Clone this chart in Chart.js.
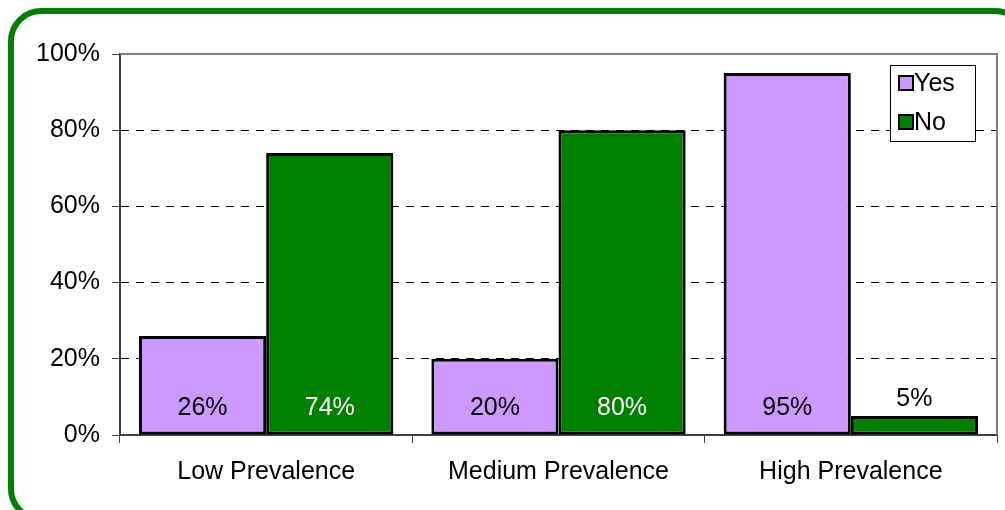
<!DOCTYPE html>
<html>
<head>
<meta charset="utf-8">
<script src="https://cdn.jsdelivr.net/npm/chart.js@4"></script>
<style>
    body { margin: 0; background: #fff; }
    #wrap { position: relative; width: 1005px; height: 510px; }
</style>
</head>
<body>
<div id="wrap"><canvas id="prevalenceChart"></canvas></div>
<script>
const CATEGORIES = ['Low Prevalence', 'Medium Prevalence', 'High Prevalence'];
const YES_VALUES = [26, 20, 95];
const NO_VALUES = [74, 80, 5];
const SERIES_NAMES = ['Yes', 'No'];

const PURPLE = '#cc99ff';
const GREEN = '#008000';
const AXIS = '#404040';
const FONT = "'Liberation Sans', Arial, sans-serif";

Chart.defaults.font.family = FONT;
Chart.defaults.font.size = 25;
Chart.defaults.color = '#000';

// gray frame on top and right of the plot area
const plotFrame = {
    id: 'plotFrame',
    beforeDatasetsDraw(chart) {
        const { ctx, chartArea: a } = chart;
        ctx.save();
        ctx.strokeStyle = '#808080';
        ctx.lineWidth = 2;
        ctx.beginPath();
        ctx.moveTo(a.left, a.top);
        ctx.lineTo(a.right, a.top);
        ctx.lineTo(a.right, a.bottom);
        ctx.stroke();
        ctx.restore();
    },
};

// percentage labels: inside the bar foot, or above short bars
const barLabels = {
    id: 'barLabels',
    afterDatasetsDraw(chart) {
        const { ctx } = chart;
        const base = chart.scales.y.getPixelForValue(0);
        ctx.save();
        ctx.font = '25px ' + FONT;
        ctx.textAlign = 'center';
        ctx.textBaseline = 'middle';
        chart.data.datasets.forEach((ds, di) => {
            chart.getDatasetMeta(di).data.forEach((bar, i) => {
                const text = ds.data[i] + '%';
                if (base - bar.y > 45) {
                    ctx.fillStyle = ds.backgroundColor === GREEN ? '#fff' : '#000';
                    ctx.fillText(text, bar.x, base - 27);
                } else {
                    ctx.fillStyle = '#000';
                    ctx.fillText(text, bar.x, bar.y - 17);
                }
            });
        });
        ctx.restore();
    },
};

// boxed legend in the upper right of the plot
const boxLegend = {
    id: 'boxLegend',
    afterDraw(chart) {
        const { ctx, chartArea: a } = chart;
        const x = a.right - 107, y = a.top + 11, w = 85, h = 76;
        ctx.save();
        ctx.fillStyle = '#fff';
        ctx.fillRect(x, y, w, h);
        ctx.strokeStyle = '#000';
        ctx.lineWidth = 1;
        ctx.strokeRect(x + 0.5, y + 0.5, w, h);
        ctx.font = '25px ' + FONT;
        ctx.textBaseline = 'middle';
        chart.data.datasets.forEach((ds, i) => {
            const cy = y + 18 + i * 39;
            ctx.fillStyle = ds.backgroundColor;
            ctx.fillRect(x + 9, cy - 7, 14, 14);
            ctx.strokeStyle = '#000';
            ctx.lineWidth = 2;
            ctx.strokeRect(x + 9, cy - 7, 14, 14);
            ctx.fillStyle = '#000';
            ctx.fillText(ds.label, x + 24, cy + 1);
        });
        ctx.restore();
    },
};

// rounded green outline round the whole chart
const outerFrame = {
    id: 'outerFrame',
    afterDraw(chart) {
        const { ctx } = chart;
        ctx.save();
        ctx.strokeStyle = GREEN;
        ctx.lineWidth = 6;
        ctx.beginPath();
        ctx.roundRect(11, 11, 1014, 508, 30);
        ctx.stroke();
        ctx.restore();
    },
};

new Chart(document.getElementById('prevalenceChart'), {
    type: 'bar',
    data: {
        labels: CATEGORIES,
        datasets: [
            { label: SERIES_NAMES[0], data: YES_VALUES, backgroundColor: PURPLE },
            { label: SERIES_NAMES[1], data: NO_VALUES, backgroundColor: GREEN },
        ],
    },
    options: {
        responsive: true,
        maintainAspectRatio: false,
        animation: false,
        layout: { padding: { top: 54, right: 8, left: 0, bottom: 0 } },
        datasets: {
            bar: {
                categoryPercentage: 0.87,
                barPercentage: 1,
                borderColor: '#000',
                borderWidth: 3,
                borderSkipped: false,
            },
        },
        scales: {
            x: {
                afterFit(scale) { scale.height = 75; },
                grid: { offset: true, drawOnChartArea: false, drawTicks: true, tickLength: 8, tickColor: AXIS },
                border: { color: AXIS, width: 2 },
                ticks: { padding: 14, color: '#000', font: { size: 25 } },
            },
            y: {
                min: 0,
                max: 100,
                afterFit(scale) { scale.width = 120; },
                grid: {
                    color: ctx => (ctx.tick && ctx.tick.value > 0 && ctx.tick.value < 100) ? '#000' : 'rgba(0,0,0,0)',
                    lineWidth: 1,
                    tickLength: 8,
                    tickColor: AXIS,
                    tickBorderDash: [],
                },
                border: { color: AXIS, width: 2, dash: [8, 7] },
                ticks: {
                    stepSize: 20,
                    padding: 12,
                    color: '#000',
                    font: { size: 25 },
                    callback: v => v + '%',
                },
            },
        },
        plugins: {
            legend: { display: false },
            tooltip: { enabled: false },
        },
    },
    plugins: [plotFrame, barLabels, boxLegend, outerFrame],
});
</script>
</body>
</html>
